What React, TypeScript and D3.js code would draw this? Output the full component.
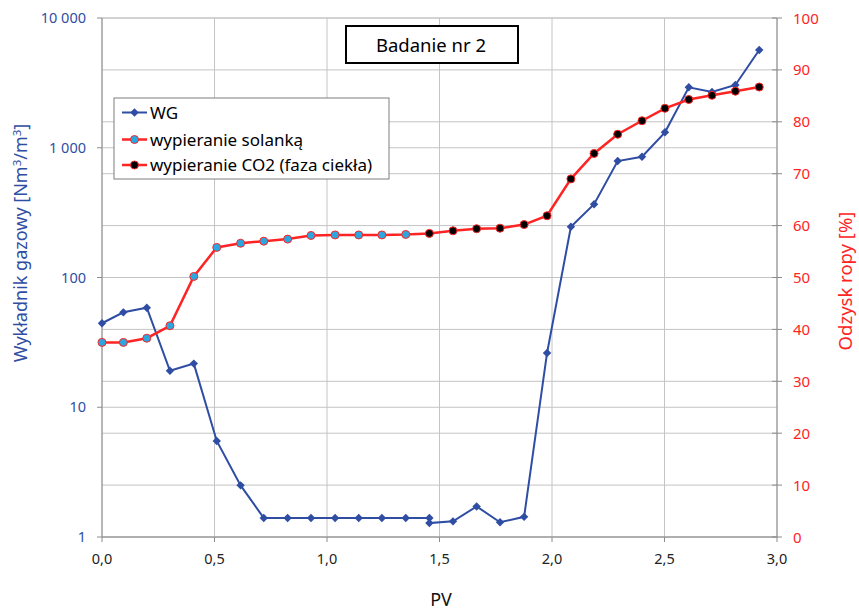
import * as React from "react";
import * as d3 from "d3";

// PV values and WG (gas factor, log axis)
const wgPV = [0.0, 0.095, 0.199, 0.302, 0.408, 0.51, 0.616, 0.719, 0.825, 0.929, 1.036, 1.141, 1.244, 1.35, 1.455, 1.455, 1.56, 1.665, 1.769, 1.876, 1.978, 2.084, 2.187, 2.292, 2.4, 2.502, 2.608, 2.711, 2.815, 2.921];
const wgValues = [44.4, 53.9, 58.5, 19.1, 21.7, 5.5, 2.5, 1.4, 1.4, 1.4, 1.4, 1.4, 1.4, 1.4, 1.4, 1.28, 1.32, 1.72, 1.3, 1.43, 26.2, 246, 367, 790, 853, 1315, 2924, 2690, 3047, 5665];

// oil recovery [%], brine flooding
const brinePV = [0.0, 0.095, 0.199, 0.302, 0.408, 0.51, 0.616, 0.719, 0.825, 0.929, 1.036, 1.141, 1.244, 1.35];
const brineValues = [37.5, 37.5, 38.3, 40.7, 50.2, 55.8, 56.6, 57.0, 57.4, 58.1, 58.2, 58.2, 58.2, 58.3];

// oil recovery [%], CO2 (liquid phase)
const co2PV = [1.455, 1.56, 1.665, 1.769, 1.876, 1.978, 2.084, 2.187, 2.292, 2.4, 2.502, 2.608, 2.711, 2.815, 2.921];
const co2Values = [58.5, 59.0, 59.4, 59.5, 60.2, 61.9, 69.0, 73.9, 77.6, 80.2, 82.6, 84.3, 85.1, 85.9, 86.7];

const xTicks = [0, 0.5, 1, 1.5, 2, 2.5, 3];
const leftTicks = [1, 10, 100, 1000, 10000];
const leftTickLabels = ["1", "10", "100", "1 000", "10 000"];
const rightTicks = [0, 10, 20, 30, 40, 50, 60, 70, 80, 90, 100];

const legendItems = ["WG", "wypieranie solanką", "wypieranie CO2 (faza ciekła)"];

const FONT = "'Noto Sans', sans-serif";
const BLUE = "#2F4DA3";
const RED = "#FF2424";
const GRID = "#C4C4C4";
const AXIS = "#8C8C8C";

export default function App() {
  const left = 102, right = 777, top = 18, bottom = 537;

  const x = d3.scaleLinear().domain([0, 3]).range([left, right]);
  const yLog = d3.scaleLog().domain([1, 10000]).range([bottom, top]);
  const yPct = d3.scaleLinear().domain([0, 100]).range([bottom, top]);

  const wgLine = d3.line<number>().x((_, i) => x(wgPV[i])).y((d) => yLog(d));
  // brine and CO2 recovery are joined into one red line
  const redPts: [number, number][] = [
    ...brinePV.map((p, i) => [p, brineValues[i]] as [number, number]),
    ...co2PV.map((p, i) => [p, co2Values[i]] as [number, number]),
  ];
  const redLine = d3.line<[number, number]>().x((d) => x(d[0])).y((d) => yPct(d[1]));

  const diamond = (cx: number, cy: number, r = 4.2) =>
    `M${cx},${cy - r}L${cx + r},${cy}L${cx},${cy + r}L${cx - r},${cy}Z`;

  const lgX = 114, lgY = 98, lgW = 275, lgH = 81;
  const rowY = [112.5, 139.5, 165];

  return (
    <svg width={859} height={611} style={{ position: "absolute", left: 0, top: 0, background: "#fff" }} fontFamily={FONT}>
      {/* grid */}
      {xTicks.map((t) => (
        <line key={"vx" + t} x1={x(t)} x2={x(t)} y1={top} y2={bottom} stroke={GRID} strokeWidth={1} />
      ))}
      {rightTicks.map((t) => (
        <line key={"hp" + t} x1={left} x2={right} y1={yPct(t)} y2={yPct(t)} stroke={GRID} strokeWidth={1} />
      ))}
      {leftTicks.map((t) => (
        <line key={"hl" + t} x1={left} x2={right} y1={yLog(t)} y2={yLog(t)} stroke={GRID} strokeWidth={1} />
      ))}

      {/* axes */}
      <line x1={left} x2={left} y1={top} y2={bottom} stroke={AXIS} />
      <line x1={right} x2={right} y1={top} y2={bottom} stroke={AXIS} />
      <line x1={left} x2={right} y1={bottom} y2={bottom} stroke={AXIS} />
      {xTicks.map((t) => (
        <line key={"xt" + t} x1={x(t)} x2={x(t)} y1={bottom} y2={bottom + 5} stroke={AXIS} />
      ))}
      {leftTicks.map((t) => (
        <line key={"lt" + t} x1={left - 5} x2={left} y1={yLog(t)} y2={yLog(t)} stroke={AXIS} />
      ))}
      {rightTicks.map((t) => (
        <line key={"rt" + t} x1={right - 5} x2={right + 5} y1={yPct(t)} y2={yPct(t)} stroke={AXIS} />
      ))}

      {/* tick labels */}
      {xTicks.map((t) => (
        <text key={"xl" + t} x={x(t)} y={bottom + 27} textAnchor="middle" fontSize={14.5} fill="#222">
          {d3.format(".1f")(t).replace(".", ",")}
        </text>
      ))}
      {leftTicks.map((t, i) => (
        <text key={"ll" + t} x={86} y={yLog(t) + 5} textAnchor="end" fontSize={14.5} fill={BLUE}>
          {leftTickLabels[i]}
        </text>
      ))}
      {rightTicks.map((t) => (
        <text key={"rl" + t} x={793} y={yPct(t) + 5.5} textAnchor="start" fontSize={15} fill={RED}>
          {t}
        </text>
      ))}

      {/* axis titles */}
      <text x={441} y={606} textAnchor="middle" fontSize={18} fill="#111">PV</text>
      <text transform="translate(27,243) rotate(-90)" textAnchor="middle" fontSize={18} fill={BLUE}>
        Wykładnik gazowy [Nm<tspan dy={-6} fontSize={11.5}>3</tspan><tspan dy={6}>/m</tspan>
        <tspan dy={-6} fontSize={11.5}>3</tspan><tspan dy={6}>]</tspan>
      </text>
      <text transform="translate(852,281) rotate(-90)" textAnchor="middle" fontSize={18.5} fill={RED}>
        Odzysk ropy [%]
      </text>

      {/* series */}
      <path d={wgLine(wgValues) ?? ""} fill="none" stroke={BLUE} strokeWidth={2} />
      {wgValues.map((v, i) => (
        <path key={"wg" + i} d={diamond(x(wgPV[i]), yLog(v))} fill={BLUE} />
      ))}
      <path d={redLine(redPts) ?? ""} fill="none" stroke={RED} strokeWidth={2.5} />
      {brineValues.map((v, i) => (
        <circle key={"b" + i} cx={x(brinePV[i])} cy={yPct(v)} r={4} fill="#2BA6DE" stroke={RED} strokeWidth={1} />
      ))}
      {co2Values.map((v, i) => (
        <circle key={"c" + i} cx={x(co2PV[i])} cy={yPct(v)} r={4} fill="#000" stroke={RED} strokeWidth={1} />
      ))}

      {/* title box */}
      <rect x={346} y={26} width={172} height={37} fill="#fff" stroke="#000" strokeWidth={2} />
      <text x={431} y={51.5} textAnchor="middle" fontSize={18.5} fill="#000">Badanie nr 2</text>

      {/* legend */}
      <rect x={lgX} y={lgY} width={lgW} height={lgH} fill="#fff" stroke="#7F7F7F" strokeWidth={1} />
      {legendItems.map((name, i) => (
        <g key={name}>
          <line x1={122} x2={147} y1={rowY[i]} y2={rowY[i]} stroke={i === 0 ? BLUE : RED} strokeWidth={i === 0 ? 2 : 2.5} />
          {i === 0 && <path d={diamond(134.5, rowY[i])} fill={BLUE} />}
          {i === 1 && <circle cx={134.5} cy={rowY[i]} r={4} fill="#2BA6DE" stroke={RED} />}
          {i === 2 && <circle cx={134.5} cy={rowY[i]} r={4} fill="#000" stroke={RED} />}
          <text x={150} y={rowY[i] + 6} fontSize={17} fill="#000">{name}</text>
        </g>
      ))}
    </svg>
  );
}
